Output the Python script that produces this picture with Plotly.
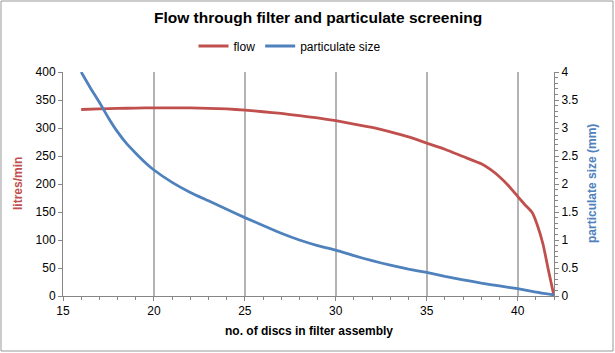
import plotly.graph_objects as go

# ---- data ----
flow_x = [16, 17, 18, 19, 20, 21, 22, 23, 24, 25, 26, 27, 28, 29, 30, 31, 32, 33, 34, 35,
          36, 37, 38, 38.5, 39, 39.5, 40, 40.4, 40.8, 41.1, 41.4, 41.7, 42]
flow_y = [333, 334, 335, 335.5, 336, 336, 336, 335, 334, 332, 329, 326, 322, 318, 313, 307,
          301, 293, 284, 273, 262, 249, 236, 226, 213, 197, 178, 163, 149, 125, 92, 45, 0]

size_x = [16, 16.5, 17, 17.5, 18, 18.5, 19, 19.5, 20, 21, 22, 23, 24, 25, 26, 27, 28, 29, 30,
          31, 32, 33, 34, 35, 36, 37, 38, 39, 40, 41, 42]
size_y = [4.0, 3.72, 3.46, 3.18, 2.93, 2.72, 2.55, 2.39, 2.25, 2.03, 1.85, 1.70, 1.55, 1.40,
          1.26, 1.12, 1.00, 0.90, 0.82, 0.72, 0.63, 0.55, 0.48, 0.42, 0.35, 0.29, 0.23, 0.18,
          0.13, 0.07, 0.02]

x_ticks = [15, 20, 25, 30, 35, 40]
title = "Flow through filter and particulate screening"
x_title = "no. of discs in filter assembly"
y_title = "litres/min"
y2_title = "particulate size (mm)"

RED = "#C0504D"
BLUE = "#4F81BD"
AX = "#868686"
FONT = "Liberation Sans, Arial, sans-serif"

W, H = 615, 353
L, R, T, B = 63, 61, 72, 57
pw, ph = W - L - R, H - T - B

def px(xp):
    return (xp - L) / pw

def py(yp):
    return (H - B - yp) / ph

fig = go.Figure()
fig.add_trace(go.Scatter(x=flow_x, y=flow_y, name="flow", mode="lines",
                         line=dict(color=RED, width=2.8, shape="spline", smoothing=0.5)))
fig.add_trace(go.Scatter(x=size_x, y=size_y, name="particulate size", mode="lines",
                         yaxis="y2",
                         line=dict(color=BLUE, width=2.8, shape="spline", smoothing=0.5)))

fig.update_layout(
    width=W, height=H,
    margin=dict(l=L, r=R, t=T, b=B),
    paper_bgcolor="white", plot_bgcolor="white",
    font=dict(family=FONT, size=12, color="#000000"),
    showlegend=True,
    legend=dict(orientation="h", x=px(290), y=py(46), xanchor="center", yanchor="middle",
                font=dict(size=12), itemwidth=30, tracegroupgap=0),
    xaxis=dict(range=[15, 42], tickvals=x_ticks, showgrid=True, gridcolor="#B4B4B4",
               gridwidth=1.5, showline=True, linecolor=AX, linewidth=1,
               ticks="outside", ticklen=4, tickcolor=AX, zeroline=False,
               minor=dict(dtick=1, ticks="outside", ticklen=3, tickcolor=AX, showgrid=False),
               tickfont=dict(size=12)),
    yaxis=dict(range=[0, 400], dtick=50, showgrid=False, showline=True, linecolor=AX,
               linewidth=1, ticks="outside", ticklen=4, tickcolor=AX, zeroline=False,
               tickfont=dict(size=12)),
    yaxis2=dict(range=[0, 4], dtick=0.5, overlaying="y", side="right", showgrid=False,
                showline=True, linecolor=AX, linewidth=1, ticks="outside", ticklen=4,
                tickcolor=AX, zeroline=False,
                minor=dict(dtick=0.1, ticks="outside", ticklen=3, tickcolor=AX),
                tickfont=dict(size=12)),
    annotations=[
        dict(text="<b>" + title + "</b>", xref="paper", yref="paper", x=px(318), y=py(18),
             showarrow=False, font=dict(size=15.5), xanchor="center", yanchor="middle"),
        dict(text="<b>" + x_title + "</b>", xref="paper", yref="paper", x=px(309), y=py(331),
             showarrow=False, font=dict(size=12), xanchor="center", yanchor="middle"),
        dict(text="<b>" + y_title + "</b>", xref="paper", yref="paper", x=px(18), y=py(184),
             showarrow=False, textangle=-90, font=dict(size=12, color=RED),
             xanchor="center", yanchor="middle"),
        dict(text="<b>" + y2_title + "</b>", xref="paper", yref="paper", x=px(592), y=py(184),
             showarrow=False, textangle=-90, font=dict(size=12, color=BLUE),
             xanchor="center", yanchor="middle"),
    ],
    shapes=[dict(type="rect", xref="paper", yref="paper", x0=px(1), x1=px(613),
                 y0=py(351), y1=py(1), line=dict(color="#999999", width=1), layer="below")],
)

fig.write_html("out.html")
